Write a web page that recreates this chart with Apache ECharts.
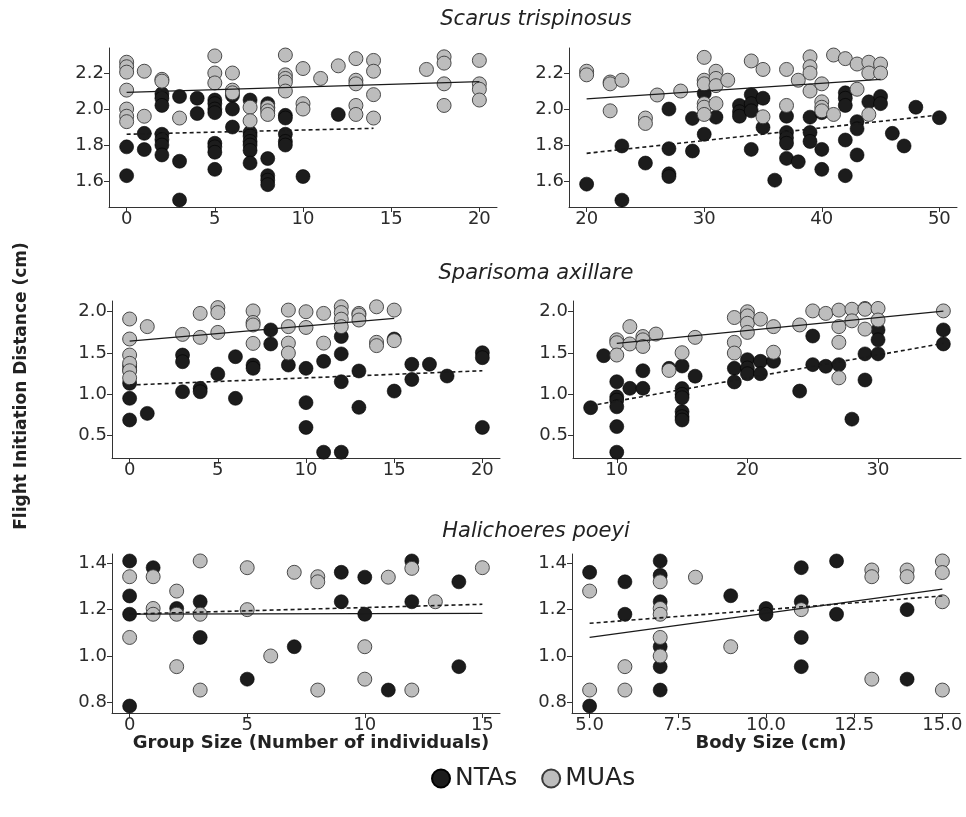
<!DOCTYPE html>
<html>
<head>
<meta charset="utf-8">
<script src="https://cdn.jsdelivr.net/npm/echarts@6/dist/echarts.min.js"></script>
<style>
  html, body { margin: 0; padding: 0; background: #fff; }
  #chart { width: 966px; height: 817px; }
</style>
</head>
<body>
<div id="chart"></div>
<script>
// species titles and axis titles
const speciesNames = ['Scarus trispinosus', 'Sparisoma axillare', 'Halichoeres poeyi']
const xTitles = ['Group Size (Number of individuals)', 'Body Size (cm)']
const yTitle = 'Flight Initiation Distance (cm)'
const legendNames = ['NTAs', 'MUAs']

// tick labels per panel
const ticksScarusGroup = [0, 5, 10, 15, 20]
const ticksScarusBody = [20, 30, 40, 50]
const ticksSparisomaGroup = [0, 5, 10, 15, 20]
const ticksSparisomaBody = [10, 20, 30]
const ticksHaliGroup = [0, 5, 10, 15]
const ticksHaliBody = [5, 7.5, 10, 12.5, 15]
const yTicksScarus = [1.6, 1.8, 2.0, 2.2]
const yTicksSparisoma = [0.5, 1.0, 1.5, 2.0]
const yTicksHali = [0.8, 1.0, 1.2, 1.4]

// Scarus trispinosus - group size
const scarusGroupNTA = [
  [0,1.79],[0,1.63],[1,1.865],[1,1.775],
  [2,2.085],[2,2.06],[2,2.02],[2,1.86],[2,1.83],[2,1.80],[2,1.745],
  [3,2.07],[3,1.71],[3,1.495],[4,2.06],[4,1.975],
  [5,2.05],[5,2.03],[5,2.0],[5,1.98],[5,1.81],[5,1.79],[5,1.76],[5,1.665],
  [6,2.075],[6,2.0],[6,1.90],
  [7,2.05],[7,1.87],[7,1.85],[7,1.82],[7,1.80],[7,1.77],[7,1.70],
  [8,2.03],[8,2.005],[8,1.725],[8,1.63],[8,1.605],[8,1.58],
  [9,1.965],[9,1.95],[9,1.86],[9,1.82],[9,1.80],[10,1.625],[12,1.97]
]
const scarusGroupMUA = [
  [0,2.26],[0,2.235],[0,2.205],[0,2.105],[0,2.0],[0,1.96],[0,1.93],
  [1,2.21],[1,1.96],[2,2.165],[2,2.155],[3,1.95],
  [5,2.295],[5,2.2],[5,2.145],[6,2.2],[6,2.105],[6,2.09],
  [7,2.01],[7,1.935],[8,2.01],[8,1.99],[8,1.97],
  [9,2.30],[9,2.19],[9,2.17],[9,2.15],[9,2.10],
  [10,2.225],[10,2.03],[10,2.0],[11,2.17],[12,2.24],
  [13,2.28],[13,2.16],[13,2.14],[13,2.02],[13,1.97],
  [14,2.27],[14,2.21],[14,2.08],[14,1.95],[17,2.22],
  [18,2.29],[18,2.255],[18,2.14],[18,2.02],
  [20,2.27],[20,2.14],[20,2.11],[20,2.05]
]
const scarusGroupFitMUA = [[0,2.093],[20,2.152]]
const scarusGroupFitNTA = [[0,1.86],[14,1.893]]

// Scarus trispinosus - body size
const scarusBodyNTA = [
  [20,1.583],[23,1.795],[23,1.494],[25,1.70],
  [27,2.0],[27,1.78],[27,1.64],[27,1.625],[29,1.948],[29,1.767],
  [30,2.087],[30,1.86],[31,1.955],[33,2.02],[33,1.985],[33,1.96],
  [34,2.08],[34,2.03],[34,1.99],[34,1.776],[35,2.06],[35,1.898],[36,1.605],
  [37,1.96],[37,1.87],[37,1.84],[37,1.81],[37,1.726],[38,1.707],
  [39,1.955],[39,1.87],[39,1.82],[40,1.98],[40,1.776],[40,1.665],
  [42,2.09],[42,2.06],[42,2.02],[42,1.828],[42,1.63],
  [43,1.93],[43,1.89],[43,1.745],[44,2.04],[45,2.07],[45,2.03],
  [46,1.865],[47,1.795],[48,2.01],[50,1.952]
]
const scarusBodyMUA = [
  [20,2.21],[20,2.19],[22,2.15],[22,2.14],[22,1.99],[23,2.16],
  [25,1.95],[25,1.92],[26,2.078],[28,2.10],
  [30,2.287],[30,2.16],[30,2.14],[30,2.03],[30,2.01],[30,1.97],
  [31,2.21],[31,2.17],[31,2.13],[31,2.03],[32,2.16],[34,2.267],
  [35,2.22],[35,1.957],[37,2.22],[37,2.02],[38,2.16],
  [39,2.29],[39,2.235],[39,2.20],[39,2.10],
  [40,2.14],[40,2.04],[40,2.01],[40,1.99],[41,2.30],[41,1.97],[42,2.28],
  [43,2.25],[43,2.11],[44,2.26],[44,2.20],[44,1.97],[45,2.25],[45,2.20]
]
const scarusBodyFitMUA = [[20,2.056],[45,2.165]]
const scarusBodyFitNTA = [[20,1.754],[50,1.967]]

// Sparisoma axillare - group size
const sparisomaGroupNTA = [
  [0,1.343],[0,1.295],[0,1.134],[0,0.952],[0,0.69],[1,0.77],
  [3,1.476],[3,1.395],[3,1.032],[4,1.073],[4,1.032],[5,1.246],
  [6,1.456],[6,0.952],[7,1.355],[7,1.315],[8,1.78],[8,1.61],[9,1.355],
  [10,1.315],[10,0.90],[10,0.60],[11,1.40],[11,0.30],
  [12,1.70],[12,1.49],[12,1.153],[12,0.30],[13,1.283],[13,0.843],
  [15,1.67],[15,1.04],[16,1.364],[16,1.18],[17,1.364],[18,1.222],
  [20,1.504],[20,1.444],[20,0.60]
]
const sparisomaGroupMUA = [
  [0,1.912],[0,1.67],[0,1.476],[0,1.376],[0,1.286],[0,1.20],
  [1,1.82],[3,1.726],[4,1.98],[4,1.69],[5,2.05],[5,1.99],[5,1.75],
  [7,2.01],[7,1.87],[7,1.84],[7,1.617],[9,2.02],[9,1.82],[9,1.62],[9,1.50],
  [10,2.0],[10,1.81],[11,1.98],[11,1.62],
  [12,2.06],[12,1.99],[12,1.91],[12,1.82],[13,1.98],[13,1.96],[13,1.90],
  [14,2.06],[14,1.63],[14,1.59],[15,2.02],[15,1.65]
]
const sparisomaGroupFitMUA = [[0,1.645],[15,1.92]]
const sparisomaGroupFitNTA = [[0,1.113],[20,1.286]]

// Sparisoma axillare - body size
const sparisomaBodyNTA = [
  [8,0.839],[9,1.468],[10,1.153],[10,0.97],[10,0.93],[10,0.85],[10,0.61],[10,0.30],
  [11,1.073],[12,1.286],[12,1.073],[14,1.315],
  [15,1.343],[15,1.07],[15,1.0],[15,0.96],[15,0.79],[15,0.73],[15,0.69],
  [16,1.22],[19,1.315],[19,1.15],[20,1.42],[20,1.32],[20,1.25],
  [21,1.40],[21,1.25],[22,1.40],[24,1.04],[25,1.706],[25,1.36],[26,1.34],
  [27,1.36],[28,0.70],[29,1.49],[29,1.174],[30,1.78],[30,1.66],[30,1.49],
  [35,1.78],[35,1.61]
]
const sparisomaBodyMUA = [
  [10,1.66],[10,1.625],[10,1.476],[11,1.82],[11,1.61],
  [12,1.70],[12,1.66],[12,1.58],[13,1.73],[14,1.29],[15,1.504],[16,1.69],
  [19,1.93],[19,1.63],[19,1.50],[20,2.0],[20,1.95],[20,1.86],[20,1.75],
  [21,1.91],[22,1.82],[22,1.51],[24,1.84],[25,2.01],[26,1.98],
  [27,2.02],[27,1.82],[27,1.63],[27,1.20],[28,2.03],[28,1.89],
  [29,2.04],[29,2.03],[29,1.79],[30,2.04],[30,1.90],[35,2.01]
]
const sparisomaBodyFitMUA = [[10,1.617],[35,2.008]]
const sparisomaBodyFitNTA = [[8,0.863],[35,1.617]]

// Halichoeres poeyi - group size
const haliGroupNTA = [
  [0,1.41],[0,1.259],[0,1.18],[0,0.784],[1,1.381],[2,1.205],
  [3,1.234],[3,1.08],[5,0.90],[7,1.04],[9,1.361],[9,1.234],
  [10,1.34],[10,1.18],[11,0.853],[12,1.41],[12,1.234],[14,1.32],[14,0.954]
]
const haliGroupMUA = [
  [0,1.342],[0,1.08],[1,1.342],[1,1.205],[1,1.18],
  [2,1.28],[2,1.18],[2,0.954],[3,1.41],[3,1.18],[3,0.853],
  [5,1.381],[5,1.20],[6,1.0],[7,1.361],[8,1.342],[8,1.32],[8,0.853],
  [10,1.04],[10,0.90],[11,1.34],[12,1.378],[12,0.853],[13,1.234],[15,1.381]
]
const haliGroupFitMUA = [[0,1.181],[15,1.184]]
const haliGroupFitNTA = [[0,1.181],[15,1.223]]

// Halichoeres poeyi - body size
const haliBodyNTA = [
  [5,1.361],[5,0.784],[6,1.32],[6,1.18],
  [7,1.41],[7,1.348],[7,1.234],[7,1.04],[7,0.954],[7,0.853],
  [9,1.26],[10,1.205],[10,1.18],[11,1.381],[11,1.234],[11,1.08],[11,0.954],
  [12,1.41],[12,1.18],[14,1.20],[14,0.90]
]
const haliBodyMUA = [
  [5,1.28],[5,0.853],[6,0.954],[6,0.853],
  [7,1.32],[7,1.205],[7,1.18],[7,1.08],[7,1.0],[8,1.34],[9,1.04],[11,1.20],
  [13,1.371],[13,1.342],[13,0.90],[14,1.371],[14,1.342],
  [15,1.41],[15,1.36],[15,1.234],[15,0.853]
]
const haliBodyFitMUA = [[5,1.08],[15,1.288]]
const haliBodyFitNTA = [[5,1.141],[15,1.259]]

const chart = echarts.init(document.getElementById('chart'))
const fontFamily = '"DejaVu Sans", "Liberation Sans", sans-serif'
const axisColor = '#333'
const textColor = '#222'
const ntaColor = '#1c1c1c'
const muaColor = '#bdbdbd'

// panels: grid box, x range, y range, data
const panels = [
  { box: [109, 48, 388, 159], x: [-1, 21], y: [1.456, 2.339], xt: ticksScarusGroup, yt: yTicksScarus, nta: scarusGroupNTA, mua: scarusGroupMUA, fm: scarusGroupFitMUA, fn: scarusGroupFitNTA, xd: 0 },
  { box: [569, 48, 388, 159], x: [18.5, 51.5], y: [1.456, 2.339], xt: ticksScarusBody, yt: yTicksScarus, nta: scarusBodyNTA, mua: scarusBodyMUA, fm: scarusBodyFitMUA, fn: scarusBodyFitNTA, xd: 0 },
  { box: [112, 301, 388, 157], x: [-1, 21], y: [0.23, 2.13], xt: ticksSparisomaGroup, yt: yTicksSparisoma, nta: sparisomaGroupNTA, mua: sparisomaGroupMUA, fm: sparisomaGroupFitMUA, fn: sparisomaGroupFitNTA, xd: 0 },
  { box: [573, 301, 388, 157], x: [6.65, 36.35], y: [0.23, 2.13], xt: ticksSparisomaBody, yt: yTicksSparisoma, nta: sparisomaBodyNTA, mua: sparisomaBodyMUA, fm: sparisomaBodyFitMUA, fn: sparisomaBodyFitNTA, xd: 0 },
  { box: [112, 554, 388, 159], x: [-0.75, 15.75], y: [0.754, 1.44], xt: ticksHaliGroup, yt: yTicksHali, nta: haliGroupNTA, mua: haliGroupMUA, fm: haliGroupFitMUA, fn: haliGroupFitNTA, xd: 0 },
  { box: [572, 554, 388, 159], x: [4.5, 15.5], y: [0.754, 1.44], xt: ticksHaliBody, yt: yTicksHali, nta: haliBodyNTA, mua: haliBodyMUA, fm: haliBodyFitMUA, fn: haliBodyFitNTA, xd: 1 }
]

const grids = [], xAxes = [], yAxes = [], series = []
panels.forEach((p, i) => {
  grids.push({ left: p.box[0], top: p.box[1], width: p.box[2], height: p.box[3] })
  const common = {
    type: 'value',
    gridIndex: i,
    splitLine: { show: false },
    axisLine: { show: true, onZero: false, lineStyle: { color: axisColor, width: 1 } },
    axisTick: { show: true, length: 5, lineStyle: { color: axisColor, width: 1 } },
    axisLabel: { color: '#2b2b2b', fontSize: 18, fontFamily: fontFamily }
  }
  xAxes.push(Object.assign({}, common, {
    min: p.x[0], max: p.x[1],
    axisTick: Object.assign({}, common.axisTick, { customValues: p.xt }),
    axisLabel: Object.assign({}, common.axisLabel, {
      customValues: p.xt, margin: 3,
      formatter: v => p.xd ? v.toFixed(1) : String(v)
    })
  }))
  yAxes.push(Object.assign({}, common, {
    min: p.y[0], max: p.y[1],
    axisTick: Object.assign({}, common.axisTick, { customValues: p.yt }),
    axisLabel: Object.assign({}, common.axisLabel, {
      customValues: p.yt, margin: 5,
      formatter: v => v.toFixed(1)
    })
  }))
  series.push({
    name: 'NTAs', type: 'scatter', xAxisIndex: i, yAxisIndex: i, data: p.nta,
    symbolSize: 14, itemStyle: { color: ntaColor, borderColor: '#000', borderWidth: 0.6, opacity: 1 },
    z: 2
  })
  series.push({
    name: 'MUAs', type: 'scatter', xAxisIndex: i, yAxisIndex: i, data: p.mua,
    symbolSize: 14, itemStyle: { color: muaColor, borderColor: '#3a3a3a', borderWidth: 0.9, opacity: 1 },
    z: 3
  })
  series.push({
    type: 'line', xAxisIndex: i, yAxisIndex: i, data: p.fm, symbol: 'none',
    lineStyle: { color: '#1a1a1a', width: 1.3 }, z: 4, silent: true
  })
  series.push({
    type: 'line', xAxisIndex: i, yAxisIndex: i, data: p.fn, symbol: 'none',
    lineStyle: { color: '#1a1a1a', width: 1.6, type: [4, 3] }, z: 4, silent: true
  })
})

const titleTops = [4, 258, 516]
const xTitleStyle = { fontSize: 18, fontWeight: 'bold', color: textColor, fontFamily: fontFamily }
const option = {
  backgroundColor: '#fff',
  animation: false,
  title: speciesNames.map((s, i) => ({
    text: s, left: 531, top: titleTops[i], textAlign: 'center',
    textStyle: { fontSize: 21, fontStyle: 'italic', fontWeight: 'normal', color: textColor, fontFamily: fontFamily }
  })).concat([
    { text: xTitles[0], left: 306, top: 729, textAlign: 'center', textStyle: xTitleStyle },
    { text: xTitles[1], left: 766, top: 729, textAlign: 'center', textStyle: xTitleStyle }
  ]),
  graphic: [{
    type: 'text', x: 22, y: 386, rotation: Math.PI / 2,
    style: { text: yTitle, fontSize: 17, fontWeight: 'bold', fill: textColor, fontFamily: fontFamily,
      textAlign: 'center', textVerticalAlign: 'middle' }
  }],
  legend: {
    data: legendNames.map(n => ({ name: n, icon: 'circle' })),
    left: 426, top: 761, itemWidth: 18, itemHeight: 18, itemGap: 24,
    textStyle: { fontSize: 25, color: textColor, fontFamily: fontFamily }
  },
  grid: grids,
  xAxis: xAxes,
  yAxis: yAxes,
  series: series
}
chart.setOption(option)
</script>
</body>
</html>
